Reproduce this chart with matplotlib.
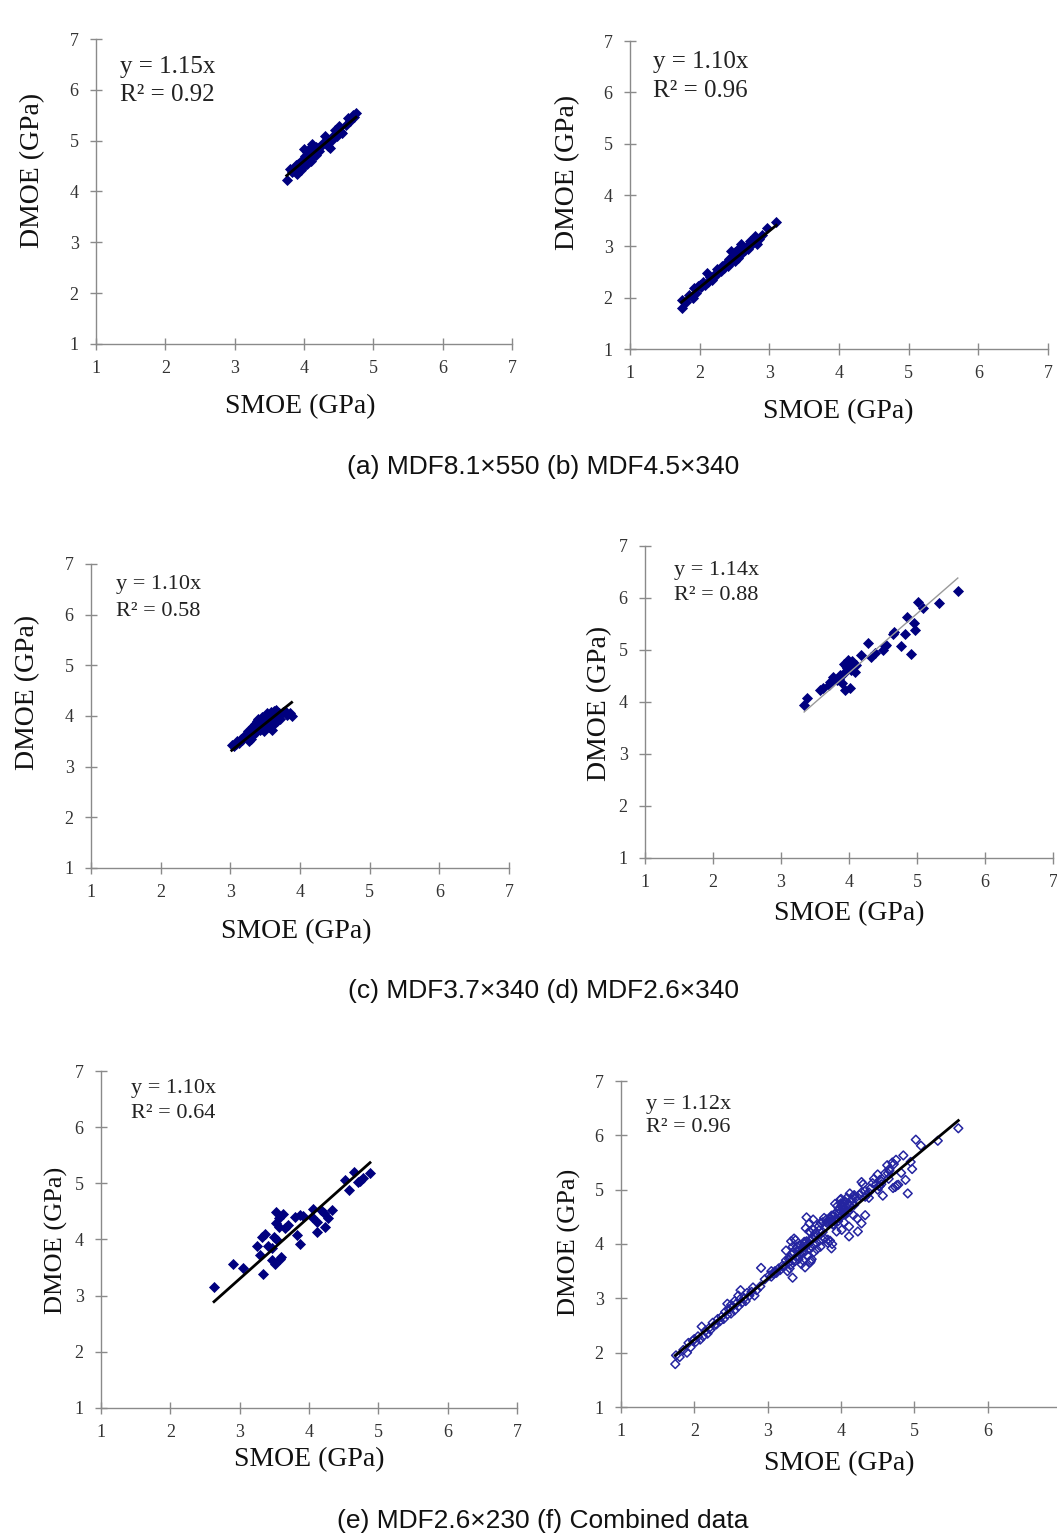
import numpy as np
import matplotlib.pyplot as plt

# (a) MDF8.1x550
a_smoe = [3.75, 3.80, 3.82, 3.85, 3.87, 3.88, 3.90, 3.92, 3.93, 3.95, 3.96, 3.98, 4.00, 4.00,
          4.02, 4.03, 4.05, 4.05, 4.07, 4.08, 4.10, 4.10, 4.12, 4.13, 4.15, 4.17, 4.18, 4.20,
          4.22, 4.25, 4.28, 4.30, 4.33, 4.35, 4.38, 4.40, 4.43, 4.45, 4.48, 4.50, 4.53, 4.55,
          4.60, 4.63, 4.66, 4.70, 4.72, 4.75]
a_dmoe = [4.22, 4.45, 4.38, 4.47, 4.40, 4.52, 4.35, 4.55, 4.47, 4.60, 4.42, 4.58, 4.83, 4.50,
          4.70, 4.62, 4.78, 4.55, 4.68, 4.85, 4.60, 4.75, 4.93, 4.70, 4.82, 4.88, 4.72, 4.85,
          4.80, 4.90, 4.95, 5.10, 4.98, 4.90, 4.85, 5.02, 5.12, 5.20, 5.10, 5.28, 5.18, 5.15,
          5.30, 5.45, 5.38, 5.50, 5.47, 5.55]

# (b) MDF4.5x340
b_smoe = [1.74, 1.75, 1.80, 1.85, 1.90, 1.92, 1.95, 1.98, 2.00, 2.02, 2.05, 2.08, 2.10, 2.12,
          2.15, 2.18, 2.20, 2.22, 2.25, 2.27, 2.30, 2.32, 2.35, 2.37, 2.40, 2.42, 2.45, 2.45,
          2.47, 2.50, 2.50, 2.52, 2.55, 2.55, 2.57, 2.60, 2.60, 2.62, 2.65, 2.68, 2.70, 2.72,
          2.75, 2.78, 2.80, 2.82, 2.85, 2.90, 2.96, 3.10]
b_dmoe = [1.79, 1.95, 1.92, 2.05, 2.00, 2.18, 2.10, 2.22, 2.25, 2.20, 2.30, 2.24, 2.48, 2.30,
          2.40, 2.35, 2.45, 2.42, 2.55, 2.50, 2.52, 2.62, 2.58, 2.66, 2.62, 2.75, 2.90, 2.70,
          2.80, 2.72, 2.88, 2.85, 2.78, 2.95, 2.90, 3.05, 2.85, 2.98, 2.92, 3.00, 2.95, 3.10,
          3.05, 3.12, 3.20, 3.05, 3.15, 3.22, 3.35, 3.47]

# (c) MDF3.7x340
c_smoe = [3.02, 3.05, 3.08, 3.10, 3.12, 3.15, 3.17, 3.20, 3.22, 3.25, 3.27, 3.28, 3.30, 3.30,
          3.32, 3.33, 3.35, 3.35, 3.37, 3.38, 3.40, 3.40, 3.42, 3.43, 3.45, 3.45, 3.47, 3.48,
          3.50, 3.50, 3.52, 3.53, 3.55, 3.55, 3.57, 3.58, 3.60, 3.60, 3.62, 3.63, 3.65, 3.65,
          3.67, 3.70, 3.72, 3.75, 3.78, 3.82, 3.85, 3.88]
c_dmoe = [3.42, 3.40, 3.45, 3.50, 3.47, 3.55, 3.52, 3.60, 3.58, 3.70, 3.50, 3.65, 3.75, 3.55,
          3.62, 3.80, 3.70, 3.85, 3.68, 3.90, 3.78, 3.95, 3.72, 3.88, 3.98, 3.80, 3.92, 3.70,
          4.00, 3.85, 3.95, 4.05, 3.78, 4.00, 3.90, 4.08, 3.72, 3.95, 4.10, 3.85, 4.12, 4.00,
          3.90, 4.05, 3.95, 4.08, 4.10, 4.02, 4.06, 4.00]

# (d) MDF2.6x340
d_smoe = [3.34, 3.38, 3.57, 3.62, 3.70, 3.72, 3.77, 3.82, 3.87, 3.89, 3.92, 3.92, 3.94, 3.97,
          3.99, 4.01, 4.01, 4.03, 4.05, 4.09, 4.11, 4.18, 4.28, 4.33, 4.38, 4.50, 4.53, 4.55,
          4.64, 4.66, 4.76, 4.82, 4.85, 4.91, 4.95, 4.97, 5.02, 5.09, 5.32, 5.60,
          3.95, 4.00, 4.03, 3.85, 3.75]
d_dmoe = [3.95, 4.07, 4.23, 4.26, 4.33, 4.39, 4.48, 4.42, 4.52, 4.36, 4.55, 4.74, 4.23, 4.65,
          4.81, 4.71, 4.26, 4.62, 4.79, 4.58, 4.71, 4.90, 5.14, 4.87, 4.95, 5.00, 5.07, 5.10,
          5.30, 5.35, 5.08, 5.31, 5.63, 4.93, 5.51, 5.38, 5.92, 5.81, 5.90, 6.13,
          4.70, 4.75, 4.68, 4.45, 4.40]

# (e) MDF2.6x230
e_smoe = [2.63, 2.91, 3.05, 3.25, 3.29, 3.32, 3.34, 3.36, 3.41, 3.46, 3.46, 3.50, 3.51, 3.52,
          3.53, 3.54, 3.57, 3.57, 3.58, 3.59, 3.62, 3.65, 3.70, 3.80, 3.82, 3.87, 3.87, 3.92,
          4.04, 4.06, 4.11, 4.11, 4.17, 4.22, 4.23, 4.28, 4.33, 4.52, 4.57, 4.65, 4.71, 4.74,
          4.78, 4.88]
e_dmoe = [3.15, 3.56, 3.50, 3.88, 3.72, 4.05, 3.38, 4.10, 3.88, 3.63, 3.85, 4.04, 3.57, 4.29,
          4.49, 3.99, 4.38, 4.23, 3.66, 3.69, 4.45, 4.20, 4.25, 4.40, 4.08, 4.43, 3.92, 4.42,
          4.40, 4.54, 4.32, 4.14, 4.53, 4.47, 4.23, 4.38, 4.53, 5.06, 4.89, 5.20, 5.03, 5.05,
          5.09, 5.18]

# (f) combined = all groups together
f_smoe = a_smoe + b_smoe + c_smoe + d_smoe + e_smoe
f_dmoe = a_dmoe + b_dmoe + c_dmoe + d_dmoe + e_dmoe

slopes = [1.15, 1.10, 1.10, 1.14, 1.10, 1.12]
r2 = ["0.92", "0.96", "0.58", "0.88", "0.64", "0.96"]
captions = ["(a) MDF8.1×550 (b) MDF4.5×340",
            "(c) MDF3.7×340 (d) MDF2.6×340",
            "(e) MDF2.6×230 (f) Combined data"]

W, H = 1057, 1539
fig = plt.figure(figsize=(W / 100, H / 100), dpi=100)

serif = "Liberation Serif"
navy = "#00007f"


def px_axes(x0, x1, ytop, ybot):
    return fig.add_axes([x0 / W, 1 - ybot / H, (x1 - x0) / W, (ybot - ytop) / H])


def style(ax, xmax_label=7):
    ax.set_xlim(1, 7)
    ax.set_ylim(1, 7)
    ax.set_xticks(range(1, xmax_label + 1))
    ax.set_yticks(range(1, 8))
    for s in ["top", "right"]:
        ax.spines[s].set_visible(False)
    for s in ["left", "bottom"]:
        ax.spines[s].set_color("#8a8a8a")
        ax.spines[s].set_linewidth(1.0)
    ax.tick_params(direction="inout", length=9, width=1.0, color="#8a8a8a",
                   labelsize=13, labelcolor="#333333")
    ax.tick_params(axis="x", pad=7)
    ax.tick_params(axis="y", pad=8)
    for lab in ax.get_xticklabels() + ax.get_yticklabels():
        lab.set_family(serif)
    ax.patch.set_visible(False)


# pixel layout: axis box, label centres, text corner, font sizes
panels = [
    dict(box=(96, 512, 39, 344), xl=(300, 407), yl=(33, 170), txt=(120, 67, 95), fs=18, yfs=20),
    dict(box=(630, 1048, 41, 349), xl=(838, 412), yl=(568, 172), txt=(653, 62, 91), fs=18, yfs=20),
    dict(box=(91, 509, 564, 868), xl=(296, 932), yl=(28, 692), txt=(116, 585, 611), fs=16, yfs=20),
    dict(box=(645, 1053, 546, 858), xl=(849, 914), yl=(600, 703), txt=(674, 570, 596), fs=16, yfs=20),
    dict(box=(101, 517, 1071, 1408), xl=(309, 1460), yl=(56, 1240), txt=(131, 1089, 1113), fs=16, yfs=19),
    dict(box=(621, 1061, 1081, 1407), xl=(839, 1464), yl=(569, 1242), txt=(646, 1104, 1128), fs=16, yfs=19),
]
xs = [a_smoe, b_smoe, c_smoe, d_smoe, e_smoe, f_smoe]
ys = [a_dmoe, b_dmoe, c_dmoe, d_dmoe, e_dmoe, f_dmoe]

for i, p in enumerate(panels):
    ax = px_axes(*p["box"])
    # last panel runs past the right edge, its "7" is not shown
    style(ax, 6 if i == 5 else 7)
    x = np.array(xs[i])
    y = np.array(ys[i])
    if i == 5:
        ax.scatter(x, y, marker="D", s=20, facecolors="none", edgecolors="#2424a0",
                   linewidths=1.1, zorder=2)
    else:
        ax.scatter(x, y, marker="D", s=32, c=navy, linewidths=0, zorder=2)
    xx = np.array([x.min(), x.max()])
    if i == 3:
        ax.plot(xx, slopes[i] * xx, color="#9a9a9a", lw=1.0, zorder=3)
    else:
        ax.plot(xx, slopes[i] * xx, color="black", lw=2.0, zorder=3)

    tx, ty1, ty2 = p["txt"]
    fig.text(tx / W, 1 - ty1 / H, f"y = {slopes[i]:.2f}x", family=serif, fontsize=p["fs"],
             color="#222222", ha="left", va="center")
    fig.text(tx / W, 1 - ty2 / H, f"R² = {r2[i]}", family=serif, fontsize=p["fs"],
             color="#222222", ha="left", va="center")
    fig.text(p["xl"][0] / W, 1 - p["xl"][1] / H, "SMOE (GPa)", family=serif, fontsize=20,
             color="#111111", ha="center", va="center")
    fig.text(p["yl"][0] / W, 1 - p["yl"][1] / H, "DMOE (GPa)", family=serif, fontsize=p["yfs"],
             color="#111111", ha="center", va="center", rotation=90)

for cy, cap in zip([467, 991, 1521], captions):
    fig.text(543 / W, 1 - cy / H, cap, family="Liberation Sans", fontsize=19,
             color="#111111", ha="center", va="center")

fig.savefig("out.png", dpi=100)
